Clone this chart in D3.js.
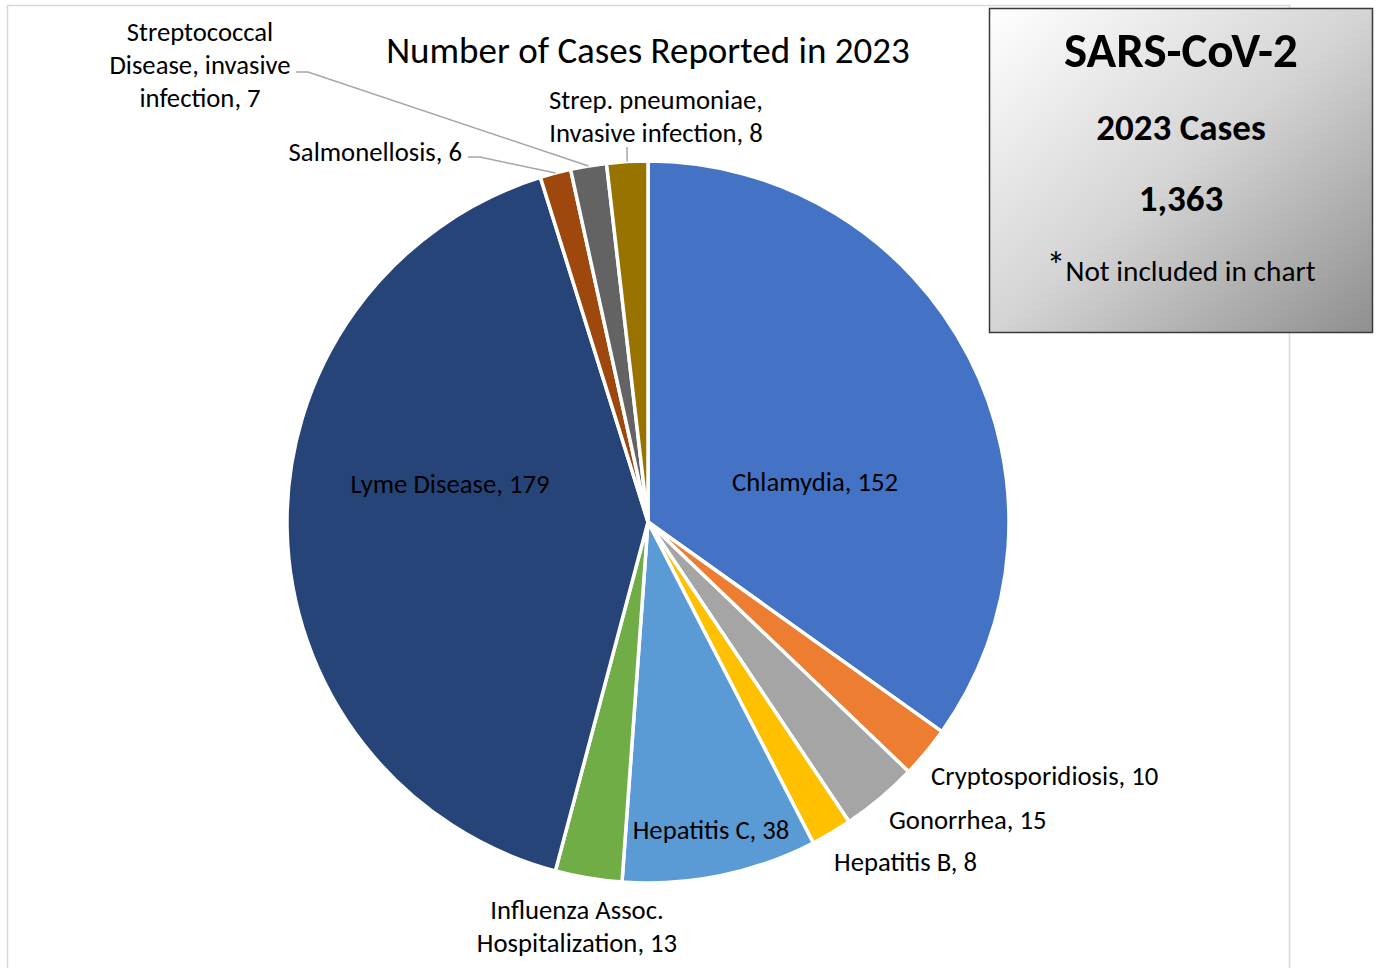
<!DOCTYPE html>
<html><head><meta charset="utf-8">
<script src="https://cdn.jsdelivr.net/npm/d3@7"></script>
<style>
body{margin:0;background:#fff;}
svg{display:block;font-family:Carlito,Calibri,Lato,"Open Sans",sans-serif;}
</style></head><body>
<svg id="c" width="1380" height="968"></svg>
<script>
const categories = ["Chlamydia","Cryptosporidiosis","Gonorrhea","Hepatitis B","Hepatitis C","Influenza Assoc. Hospitalization","Lyme Disease","Salmonellosis","Streptococcal Disease, invasive infection","Strep. pneumoniae, Invasive infection"];
const values = [152,10,15,8,38,13,179,6,7,8];
const colors = ["#4472C4","#ED7D31","#A5A5A5","#FFC000","#5B9BD5","#70AD47","#264478","#9E480E","#636363","#997300"];
const labelLines = [["Chlamydia, 152"],["Cryptosporidiosis, 10"],["Gonorrhea, 15"],["Hepatitis B, 8"],["Hepatitis C, 38"],["Influenza Assoc.","Hospitalization, 13"],["Lyme Disease, 179"],["Salmonellosis, 6"],["Streptococcal","Disease, invasive","infection, 7"],["Strep. pneumoniae,","Invasive infection, 8"]];
const title = "Number of Cases Reported in 2023";
const boxLines = ["SARS-CoV-2","2023 Cases","1,363","Not included in chart"];

// layout (label anchors, not data)
const labelLayout = [
  {x:815,y:482,anchor:"middle"},
  {x:931,y:776,anchor:"start"},
  {x:889,y:820,anchor:"start"},
  {x:834,y:862,anchor:"start"},
  {x:711,y:830,anchor:"middle"},
  {x:577,y:910,anchor:"middle"},
  {x:450,y:484,anchor:"middle"},
  {x:462,y:152,anchor:"end",leader:[[468,157],[480,157]]},
  {x:200,y:32,anchor:"middle",leader:[[296,72],[308,72]]},
  {x:656,y:100,anchor:"middle",leader:[[627,147]]}
];

const svg = d3.select("#c");
const cx=648, cy=522, R=361;

// chart frame
svg.append("rect").attr("x",7.5).attr("y",5.5).attr("width",1282).attr("height",975)
  .attr("fill","#fff").attr("stroke","#d9d9d9").attr("stroke-width",1.5);

svg.append("text").attr("x",648).attr("y",50).attr("text-anchor","middle")
  .attr("dominant-baseline","central").attr("font-size",37).attr("fill","#000").text(title);

const pie = d3.pie().value(d=>d).sort(null);
const arcs = pie(values);
const arc = d3.arc().innerRadius(0).outerRadius(R);
const g = svg.append("g").attr("transform",`translate(${cx},${cy})`);
g.selectAll("path").data(arcs).join("path")
  .attr("d",arc).attr("fill",(d,i)=>colors[i])
  .attr("stroke","#fff").attr("stroke-width",3.5).attr("stroke-linejoin","round");

// leader lines
const edge = d3.arc().innerRadius(R).outerRadius(R);
arcs.forEach((a,i)=>{
  const L = labelLayout[i];
  if(!L.leader) return;
  const [ex,ey] = edge.centroid(a);
  const pts = L.leader.concat([[cx+ex, cy+ey]]);
  svg.append("path").attr("d",d3.line()(pts)).attr("fill","none")
    .attr("stroke","#a6a6a6").attr("stroke-width",1.5);
});

// labels
const fs = 26.7, lh = 33;
labelLines.forEach((lines,i)=>{
  const L = labelLayout[i];
  const t = svg.append("text").attr("text-anchor",L.anchor).attr("font-size",fs).attr("fill","#000");
  lines.forEach((s,j)=>{
    t.append("tspan").attr("x",L.x).attr("y",L.y+j*lh).attr("dominant-baseline","central").text(s);
  });
});

// SARS-CoV-2 box
const defs = svg.append("defs");
const grad = defs.append("linearGradient").attr("id","bg").attr("x1","0").attr("y1","0").attr("x2","1").attr("y2","1");
grad.append("stop").attr("offset","0").attr("stop-color","#ffffff");
grad.append("stop").attr("offset","0.5").attr("stop-color","#d4d4d4");
grad.append("stop").attr("offset","1").attr("stop-color","#8f8f8f");
svg.append("rect").attr("x",989.5).attr("y",8.5).attr("width",383).attr("height",324)
  .attr("fill","url(#bg)").attr("stroke","#3a3a3a").attr("stroke-width",1.5);
const bx = 1181;
svg.append("text").attr("x",bx).attr("y",50).attr("text-anchor","middle").attr("dominant-baseline","central")
  .attr("font-size",49).attr("font-weight","bold").attr("fill","#000").text(boxLines[0]);
svg.append("text").attr("x",bx).attr("y",127).attr("text-anchor","middle").attr("dominant-baseline","central")
  .attr("font-size",37).attr("font-weight","bold").attr("fill","#000").text(boxLines[1]);
svg.append("text").attr("x",bx).attr("y",198).attr("text-anchor","middle").attr("dominant-baseline","central")
  .attr("font-size",37).attr("font-weight","bold").attr("fill","#000").text(boxLines[2]);
const nt = svg.append("text").attr("x",bx).attr("y",271).attr("text-anchor","middle").attr("dominant-baseline","central")
  .attr("font-size",29.3).attr("fill","#000");
nt.append("tspan").attr("font-size",38).attr("dy",-5).text("*");
nt.append("tspan").attr("dy",5).text(boxLines[3]);
</script>
</body></html>
